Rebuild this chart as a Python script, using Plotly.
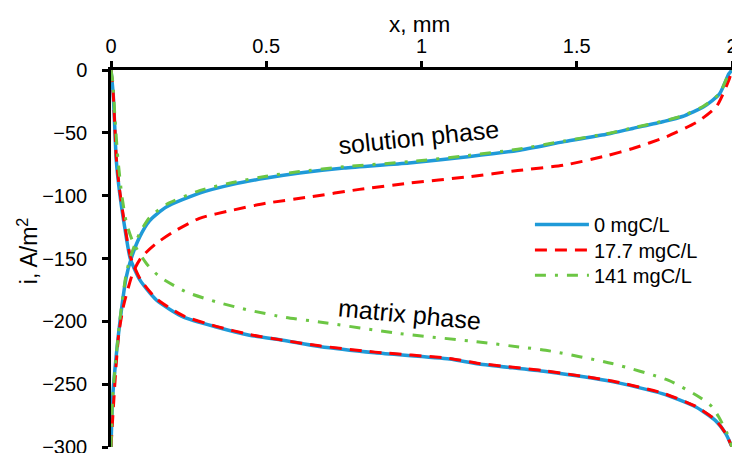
import plotly.graph_objects as go

# x positions (mm) and current density (A/m2)
# 0 mgC/L
x_sol_0 = [0, 0.005, 0.012, 0.028, 0.049, 0.065, 0.092, 0.124, 0.178, 0.285, 0.392, 0.5, 0.607, 0.75, 0.96, 1.15, 1.31, 1.46, 1.6, 1.68, 1.78, 1.84, 1.91, 1.96, 1.99, 2.0]
i_sol_0 = [-300, -262, -240, -202, -165, -150, -133, -120, -109, -98, -91, -86, -82, -78, -74, -69, -64, -57, -51, -46.5, -41, -37, -29, -19, -3, 0]
x_mat_0 = [0, 0.007, 0.012, 0.017, 0.028, 0.044, 0.062, 0.093, 0.146, 0.232, 0.339, 0.446, 0.553, 0.671, 0.85, 1.09, 1.185, 1.4, 1.614, 1.775, 1.882, 1.947, 1.979, 2.0]
i_mat_0 = [0, -19, -45, -72, -98, -125, -150, -167, -183, -196.5, -204.5, -211, -215, -220, -225, -230, -234, -240, -248, -257.5, -268, -279, -289, -300]

# 17.7 mgC/L
x_sol_1 = [0, 0.006, 0.015, 0.025, 0.04, 0.071, 0.098, 0.146, 0.2, 0.285, 0.392, 0.5, 0.64, 0.8, 0.96, 1.15, 1.31, 1.46, 1.6, 1.68, 1.79, 1.89, 1.95, 1.99, 2.0]
i_sol_1 = [-300, -275, -240, -210, -188, -161, -149, -138, -129, -118, -111.5, -106, -101, -95, -90, -85, -80, -75.7, -68, -62.5, -53, -41, -29, -8, 0]
x_mat_1 = [0, 0.007, 0.012, 0.017, 0.028, 0.044, 0.062, 0.093, 0.146, 0.232, 0.339, 0.446, 0.553, 0.671, 0.85, 1.09, 1.185, 1.4, 1.614, 1.775, 1.882, 1.947, 1.979, 2.0]
i_mat_1 = [0, -18, -43, -70, -96, -123, -148, -166, -182, -195.5, -204, -210.5, -215, -219.5, -224.5, -229.5, -233.5, -239.5, -247.5, -257, -267.5, -278.5, -289, -300]

# 141 mgC/L
x_sol_2 = [0, 0.005, 0.012, 0.028, 0.049, 0.065, 0.092, 0.124, 0.178, 0.285, 0.392, 0.5, 0.607, 0.75, 0.96, 1.15, 1.31, 1.46, 1.6, 1.68, 1.78, 1.84, 1.91, 1.96, 1.99, 2.0]
i_sol_2 = [-300, -262, -240, -200, -162, -147, -130, -117.5, -107, -96, -89.5, -84.5, -80.8, -77, -73, -68, -63, -56.5, -50.5, -46, -40.5, -36.5, -28.5, -18.5, -3, 0]
x_mat_2 = [0, 0.006, 0.012, 0.022, 0.035, 0.05, 0.071, 0.114, 0.157, 0.242, 0.339, 0.435, 0.564, 0.671, 0.928, 1.185, 1.314, 1.4, 1.614, 1.796, 1.893, 1.936, 1.957, 1.984, 2.0]
i_mat_2 = [0, -10, -35, -70, -100, -122, -137, -154, -164.6, -176.6, -184.5, -190.6, -197, -200.5, -209.7, -216.4, -220.4, -223, -233.6, -247, -260, -268, -276, -289, -300]

series_names = ["0 mgC/L", "17.7 mgC/L", "141 mgC/L"]
x_ticks = [0, 0.5, 1, 1.5, 2]
x_tick_text = ["0", "0.5", "1", "1.5", "2"]
y_ticks = [0, -50, -100, -150, -200, -250, -300]

colors = ["#1f9ad8", "#ff0000", "#6cc644"]
widths = [3.5, 3, 3]
dashes = ["solid", "12px,8px", "11px,9px,3px,9px"]
legend_ids = ["legend", "legend2", "legend3"]
legend_y = [0.642, 0.574, 0.507]
data = [
    (x_sol_0, i_sol_0, x_mat_0, i_mat_0),
    (x_sol_1, i_sol_1, x_mat_1, i_mat_1),
    (x_sol_2, i_sol_2, x_mat_2, i_mat_2),
]

FONT = "Arial, 'Liberation Sans', sans-serif"

fig = go.Figure()
for k, (xs, ys, xm, ym) in enumerate(data):
    line = dict(color=colors[k], width=widths[k], dash=dashes[k], shape="spline", smoothing=0.6)
    fig.add_trace(go.Scatter(x=xs, y=ys, mode="lines", line=line, name=series_names[k],
                             legendgroup=series_names[k], legend=legend_ids[k], showlegend=True))
    fig.add_trace(go.Scatter(x=xm, y=ym, mode="lines", line=line, name=series_names[k],
                             legendgroup=series_names[k], legend=legend_ids[k], showlegend=False))

legend_common = dict(x=0.6746, xanchor="left", yanchor="top", itemwidth=54,
                     font=dict(size=20), bgcolor="rgba(0,0,0,0)")
legends = {}
for k, lid in enumerate(legend_ids):
    legends[lid] = dict(legend_common, y=legend_y[k])

fig.update_layout(
    width=732, height=453,
    margin=dict(l=111, r=0, t=70, b=6),
    paper_bgcolor="white", plot_bgcolor="white",
    font=dict(family=FONT, size=20, color="black"),
    showlegend=True,
    **legends,
    xaxis=dict(side="top", range=[0, 2], tickvals=x_ticks, ticktext=x_tick_text,
               showline=True, linecolor="black", linewidth=2.5, ticks="outside",
               ticklen=6, tickwidth=2.5, tickcolor="black", showgrid=False, zeroline=False,
               ticklabelstandoff=0, automargin=False, ticklabeloverflow="allow"),
    yaxis=dict(range=[-300, 0], tickvals=y_ticks, showline=True, linecolor="black",
               linewidth=2.5, ticks="outside", ticklen=6, tickwidth=2.5, tickcolor="black",
               showgrid=False, zeroline=False, ticklabelstandoff=11, automargin=False,
               ticklabeloverflow="allow"),
    annotations=[
        dict(x=0.496, y=1.122, xref="paper", yref="paper", text="x, mm", showarrow=False,
             xanchor="center", yanchor="middle", font=dict(size=22.5)),
        dict(x=-0.1337, y=0.522, xref="paper", yref="paper", text="i, A/m<sup>2</sup>",
             showarrow=False, textangle=-90, xanchor="center", yanchor="middle",
             font=dict(size=23)),
        dict(x=0.99, y=-53, xref="x", yref="y", text="solution phase", showarrow=False,
             textangle=-6, font=dict(size=25)),
        dict(x=0.96, y=-194.5, xref="x", yref="y", text="matrix phase", showarrow=False,
             textangle=5.4, font=dict(size=25)),
    ],
)

# remove the default page margin so the 732x453 figure fills the window exactly
fig.write_html("out.html", config={"displayModeBar": False},
               post_script="document.body.style.margin='0px';document.body.style.overflow='hidden';")
